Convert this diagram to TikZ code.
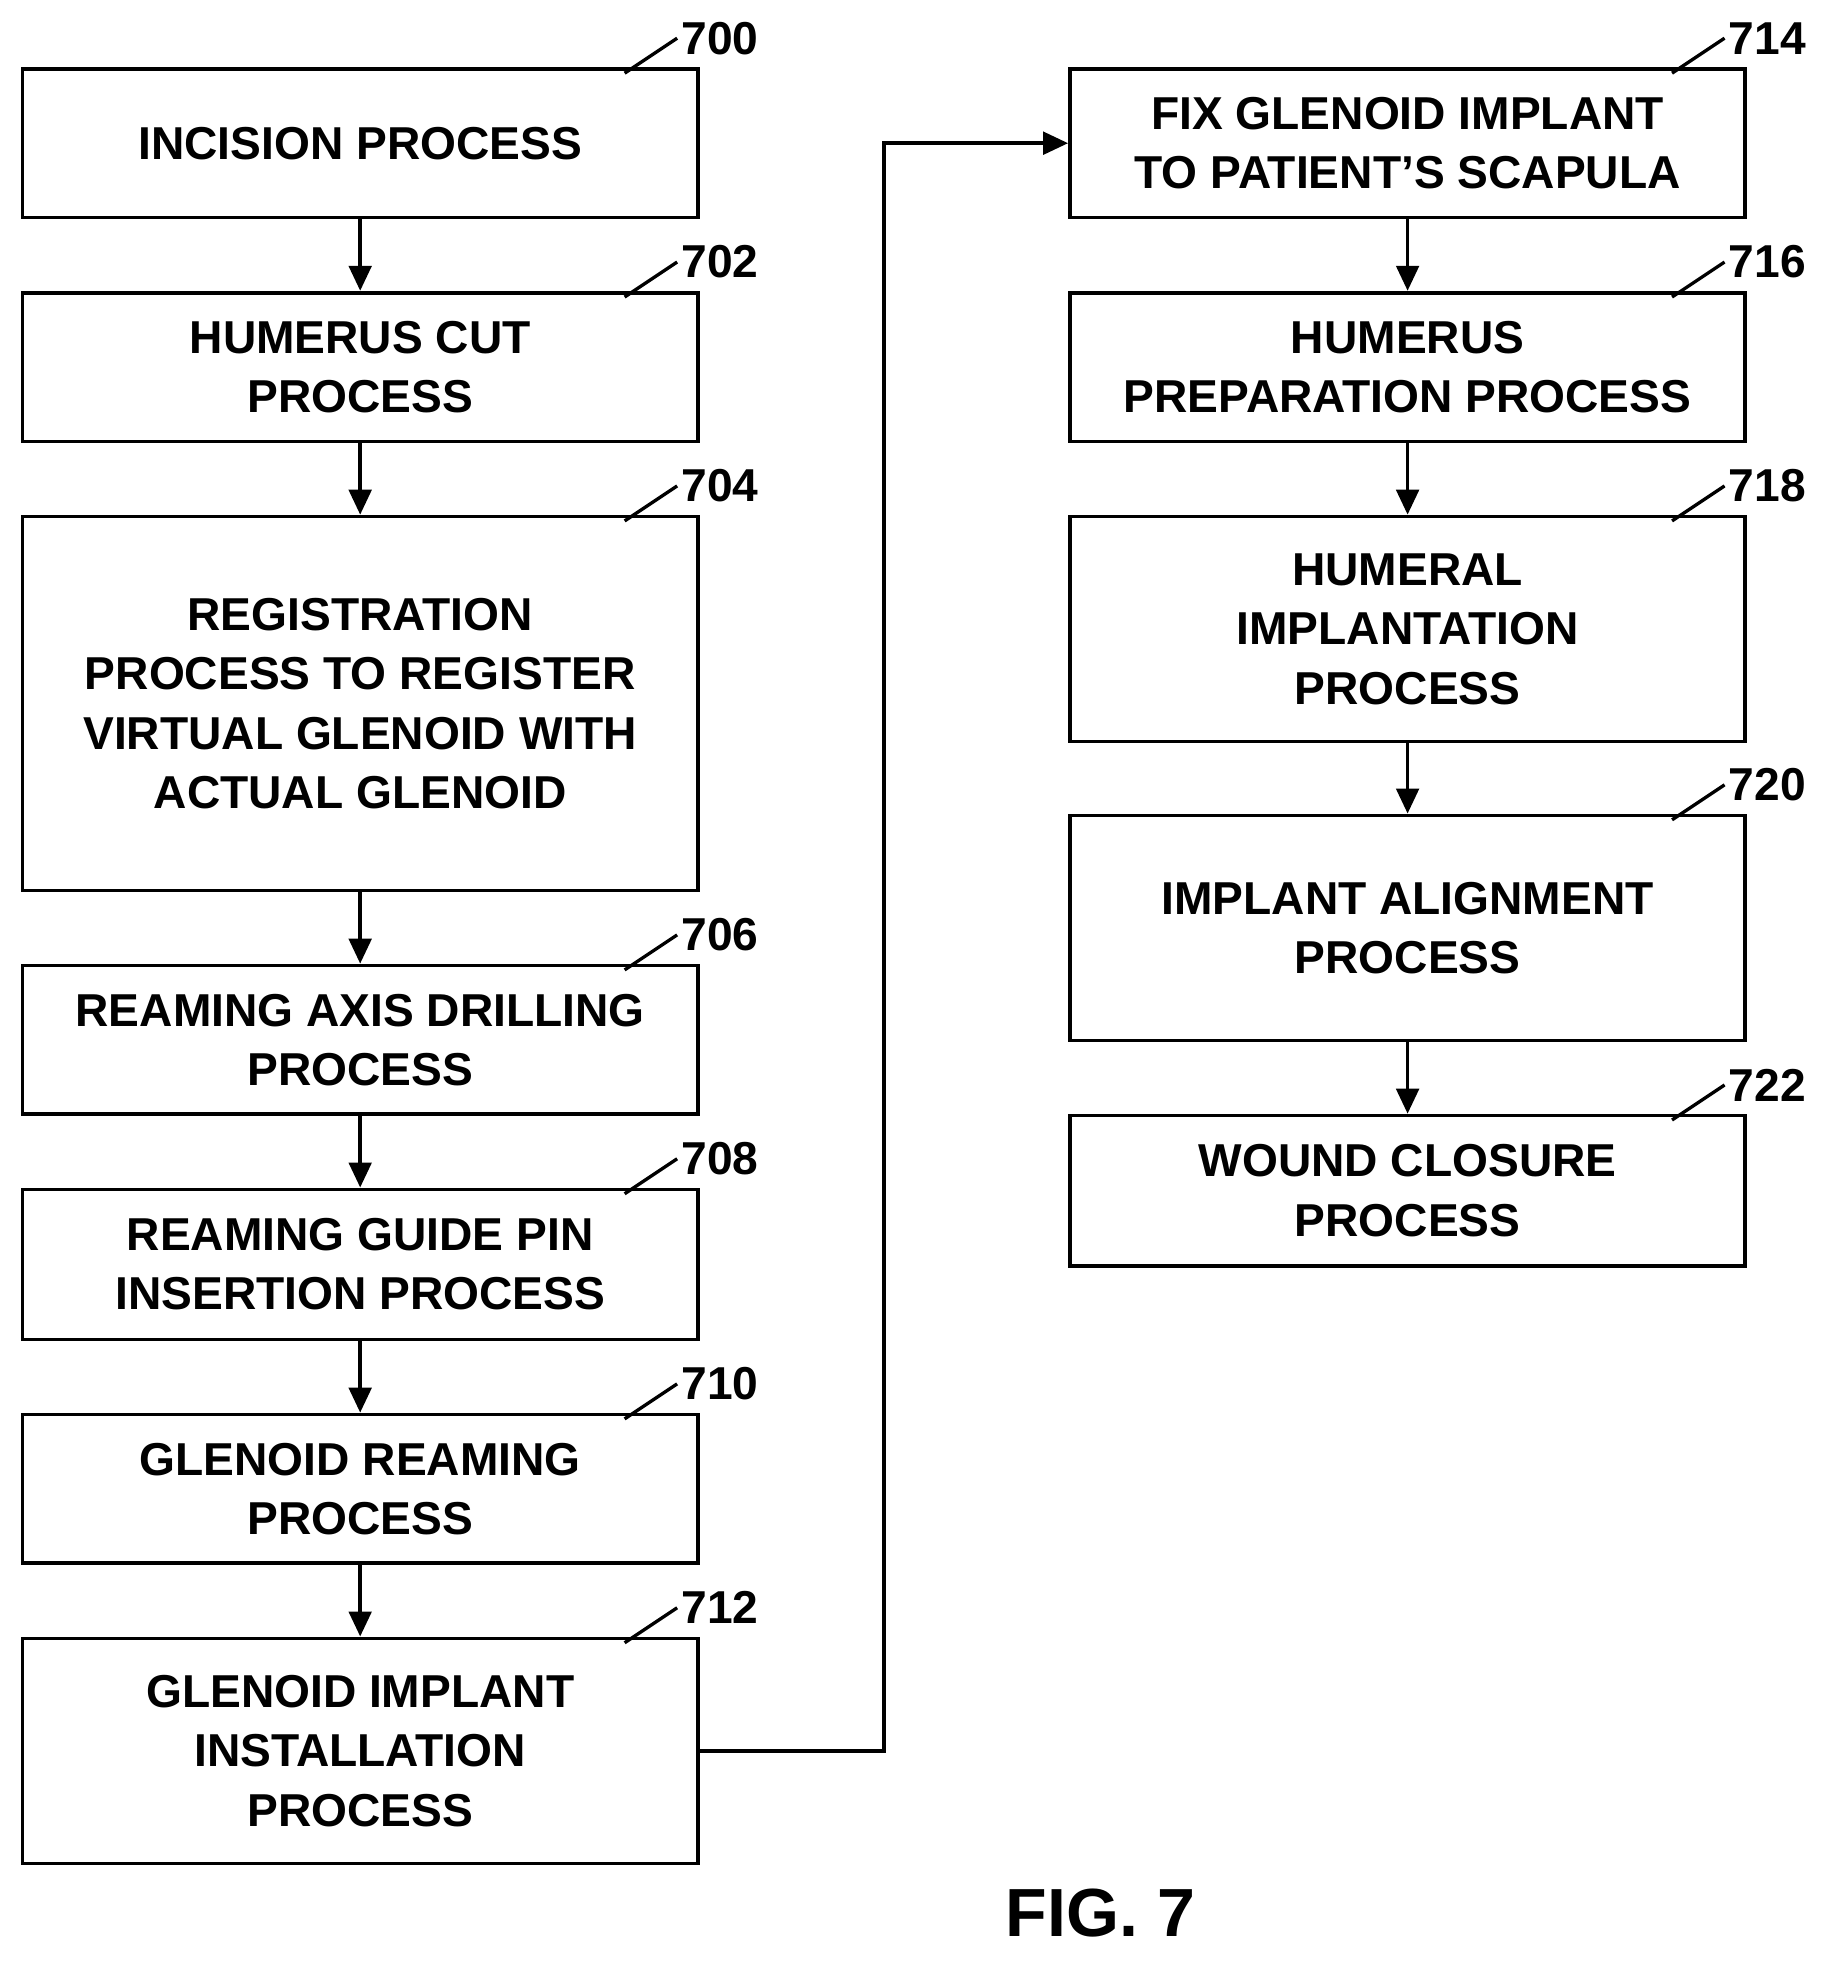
\documentclass[tikz,border=0pt]{standalone}
\usepackage{fontspec}
\setmainfont{Liberation Sans}
\usetikzlibrary{arrows.meta}
\tikzset{
    box/.style = {shape=rectangle, draw, line width=1.7pt, align=center,
        minimum width=10.8cm, inner sep=0pt,
        font=\fontsize{21}{27}\selectfont\bfseries},
    flow/.style = {line width=1.7pt, -{Triangle[length=0.4cm, width=0.36cm]}},
    refnum/.style = {anchor=west, inner sep=0pt, font=\fontsize{21}{25}\selectfont\bfseries}
}
\newcommand{\refmark}[2]{%
    \draw[line width=1.5pt] ([shift={(-1.2cm,-0.1cm)}]#1.north east) -- ([shift={(-0.36cm,0.46cm)}]#1.north east);
    \node[refnum] at ([shift={(-0.3cm,0.46cm)}]#1.north east) {#2};}
\begin{document}
\begin{tikzpicture}[x=0.02cm, y=-0.02cm]
    \useasboundingbox (0,0) rectangle (1466,1572);

    % left column
    \node[box, minimum height=2.38cm] (incision) at (288,114.5) {INCISION PROCESS};
    \node[box, minimum height=2.38cm] (cut) at (288,293.5) {HUMERUS CUT\\PROCESS};
    \node[box, minimum height=5.98cm] (registration) at (288,562.5)
        {REGISTRATION\\PROCESS TO REGISTER\\VIRTUAL GLENOID WITH\\ACTUAL GLENOID};
    \node[box, minimum height=2.38cm] (drilling) at (288,831.5) {REAMING AXIS DRILLING\\PROCESS};
    \node[box, minimum height=2.4cm] (pin) at (288,1011) {REAMING GUIDE PIN\\INSERTION PROCESS};
    \node[box, minimum height=2.38cm] (reaming) at (288,1190.5) {GLENOID REAMING\\PROCESS};
    \node[box, minimum height=3.6cm] (installation) at (288,1400)
        {GLENOID IMPLANT\\INSTALLATION\\PROCESS};

    % right column
    \node[box, minimum height=2.38cm] (fix) at (1125.5,114.5) {FIX GLENOID IMPLANT\\TO PATIENT'S SCAPULA};
    \node[box, minimum height=2.38cm] (preparation) at (1125.5,293.5) {HUMERUS\\PREPARATION PROCESS};
    \node[box, minimum height=3.6cm] (implantation) at (1125.5,503) {HUMERAL\\IMPLANTATION\\PROCESS};
    \node[box, minimum height=3.6cm] (alignment) at (1125.5,742) {IMPLANT ALIGNMENT\\PROCESS};
    \node[box, minimum height=2.4cm] (closure) at (1125.5,952) {WOUND CLOSURE\\PROCESS};

    % connectors
    \draw[flow] (incision) -- (cut);
    \draw[flow] (cut) -- (registration);
    \draw[flow] (registration) -- (drilling);
    \draw[flow] (drilling) -- (pin);
    \draw[flow] (pin) -- (reaming);
    \draw[flow] (reaming) -- (installation);
    \draw[flow] (installation.east) -- (707,1400) |- (fix.west);
    \draw[flow] (fix) -- (preparation);
    \draw[flow] (preparation) -- (implantation);
    \draw[flow] (implantation) -- (alignment);
    \draw[flow] (alignment) -- (closure);

    % reference numerals
    \refmark{incision}{700}
    \refmark{cut}{702}
    \refmark{registration}{704}
    \refmark{drilling}{706}
    \refmark{pin}{708}
    \refmark{reaming}{710}
    \refmark{installation}{712}
    \refmark{fix}{714}
    \refmark{preparation}{716}
    \refmark{implantation}{718}
    \refmark{alignment}{720}
    \refmark{closure}{722}

    \node[font=\fontsize{31}{36}\selectfont\bfseries] (caption) at (880,1530) {FIG. 7};
\end{tikzpicture}
\end{document}
